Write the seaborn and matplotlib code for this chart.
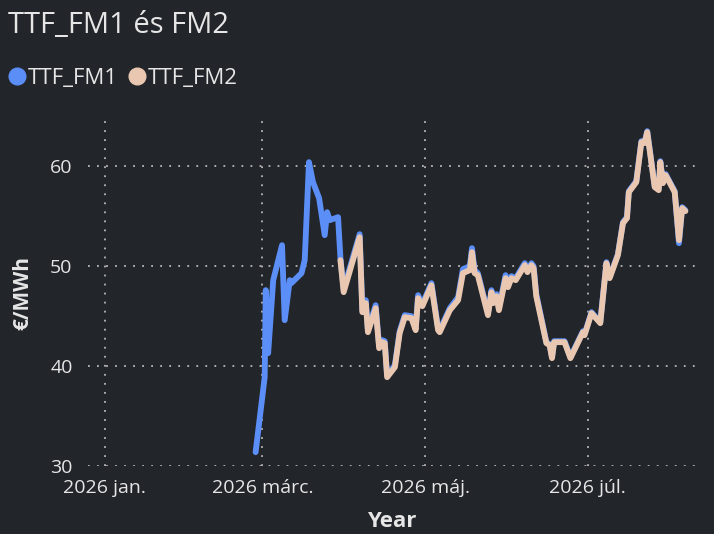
import numpy as np
import pandas as pd
import matplotlib
matplotlib.use("Agg")
import matplotlib.pyplot as plt
from matplotlib.lines import Line2D
import seaborn as sns

# ---- data (days since 2026-01-01, values in €/MWh) ----
days_fm1_only = [56.5, 59.9, 60.3, 61.2, 63.1, 66.4, 67.4, 69.3, 69.9, 73.7,
                 74.9, 76.5, 78.0, 80.3, 82.4, 83.3, 84.3, 87.4]
fm1_only = [31.4, 38.9, 47.6, 41.3, 48.6, 52.1, 44.6, 48.6, 48.3, 49.3,
            50.6, 60.4, 58.4, 56.8, 53.1, 55.4, 54.6, 54.9]

days_common = [88.3, 89.5, 95.5, 96.5, 97.8, 98.6, 101.5, 102.8, 104.0, 104.9,
               105.8, 108.7, 110.5, 112.4, 114.9, 116.5, 117.4, 119.0, 122.4, 124.9,
               125.5, 129.3, 132.4, 134.2, 136.8, 137.6, 138.6, 139.8, 143.6, 144.9,
               145.5, 146.8, 147.7, 150.2, 151.1, 152.4, 154.0, 157.4, 158.4, 159.9,
               160.7, 161.7, 165.5, 166.7, 167.6, 168.4, 172.3, 174.5, 179.2, 179.8,
               182.4, 185.7, 188.0, 189.2, 192.3, 194.2, 195.7, 196.4, 199.2, 201.1,
               202.3, 203.3, 206.1, 207.6, 208.2, 209.2, 210.2, 213.6, 215.2, 216.4,
               217.6]
fm2_common = [50.6, 47.4, 52.9, 45.4, 46.3, 43.4, 45.8, 41.8, 42.4, 42.3,
              38.9, 39.9, 43.3, 44.9, 44.8, 43.6, 46.8, 46.0, 48.1, 43.6,
              43.4, 45.6, 46.6, 49.3, 49.6, 51.4, 49.3, 49.1, 45.1, 47.4,
              46.3, 47.0, 45.6, 48.8, 47.9, 48.8, 48.6, 50.1, 49.4, 50.1,
              49.8, 47.0, 42.3, 42.1, 40.8, 42.4, 42.4, 40.8, 43.4, 43.1,
              45.3, 44.3, 50.3, 48.8, 51.1, 54.3, 54.8, 57.4, 58.4, 62.4,
              62.3, 63.4, 57.9, 57.6, 60.4, 58.3, 59.1, 57.4, 52.6, 55.8,
              55.5]
fm1_common = [50.8, 47.7, 53.2, 45.7, 46.6, 43.6, 46.1, 42.0, 42.6, 42.5,
              39.1, 40.1, 43.5, 45.1, 45.0, 43.8, 47.1, 46.2, 48.3, 43.8,
              43.6, 45.8, 46.9, 49.7, 50.0, 51.8, 49.6, 49.3, 45.3, 47.6,
              46.5, 47.2, 45.8, 49.1, 48.1, 49.0, 48.8, 50.3, 49.6, 50.3,
              50.0, 47.2, 42.4, 42.2, 40.9, 42.5, 42.5, 40.9, 43.5, 43.2,
              45.4, 44.4, 50.4, 48.9, 51.2, 54.4, 54.9, 57.5, 58.5, 62.5,
              62.4, 63.5, 58.0, 57.7, 60.5, 58.4, 59.2, 57.5, 52.3, 55.9,
              55.6]

series_names = ["TTF_FM1", "TTF_FM2"]
series_colors = ["#5B8FF7", "#E9C7B1"]

tick_dates = ["2026-01-01", "2026-03-01", "2026-05-01", "2026-07-01"]
tick_labels = ["2026 jan.", "2026 márc.", "2026 máj.", "2026 júl."]
y_ticks = [30, 40, 50, 60]

title = "TTF_FM1 és FM2"
x_label = "Year"
y_label = "€/MWh"

# ---- build frame ----
base = pd.Timestamp("2026-01-01")
d1 = days_fm1_only + days_common
v1 = fm1_only + fm1_common
df = pd.concat([
    pd.DataFrame({"date": base + pd.to_timedelta(d1, unit="D"), "value": v1, "series": series_names[0]}),
    pd.DataFrame({"date": base + pd.to_timedelta(days_common, unit="D"), "value": fm2_common, "series": series_names[1]}),
], ignore_index=True)

bg = "#222529"
fg = "#E6E6E6"
grid_c = "#B8B8B8"

sns.set_theme(style="dark")
plt.rcParams["font.family"] = ["Open Sans", "DejaVu Sans"]

fig = plt.figure(figsize=(7.14, 5.34), dpi=100, facecolor=bg)
ax = fig.add_axes([0.123, 0.127, 0.850, 0.648])
ax.set_facecolor(bg)

sns.lineplot(data=df, x="date", y="value", hue="series", hue_order=series_names,
             palette=series_colors, linewidth=4.2, legend=False, ax=ax,
             estimator=None, sort=False)
for ln in ax.lines:
    ln.set_solid_joinstyle("round")
    ln.set_solid_capstyle("round")

ax.set_xlim(base + pd.Timedelta(days=-6.4), base + pd.Timedelta(days=221.1))
ax.set_ylim(30, 64.6)
ax.set_xticks(pd.to_datetime(tick_dates))
ax.set_xticklabels(tick_labels)
ax.set_yticks(y_ticks)

ax.grid(True, which="major", axis="both", color=grid_c, linestyle=(0, (1, 4)), linewidth=1.3)
for s in ax.spines.values():
    s.set_visible(False)
ax.tick_params(axis="both", length=0, colors=fg, labelsize=14)
ax.tick_params(axis="x", pad=9)
ax.tick_params(axis="y", pad=11)

ax.set_xlabel(x_label, color=fg, fontsize=16, fontweight="bold", labelpad=10)
ax.set_ylabel(y_label, color=fg, fontsize=15, fontweight="bold", labelpad=12)

fig.text(0.011, 0.953, title, color=fg, fontsize=21, ha="left", va="center")

handles = [Line2D([], [], marker="o", linestyle="none", markersize=12,
                  markerfacecolor=c, markeredgecolor=c) for c in series_colors]
leg = fig.legend(handles, series_names, loc="center left", bbox_to_anchor=(-0.012, 0.853),
                 frameon=False, fontsize=16, handletextpad=0.05, columnspacing=0.4,
                 ncol=2, handlelength=0.9, borderpad=0.2)
for t in leg.get_texts():
    t.set_color(fg)

fig.savefig("out.png", dpi=100, facecolor=bg)
